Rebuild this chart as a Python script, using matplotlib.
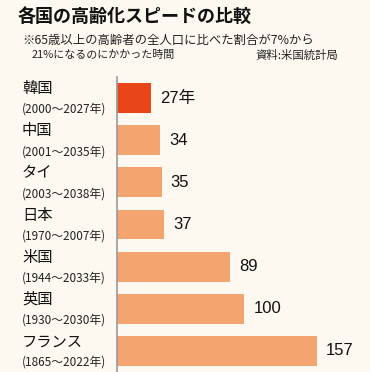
import matplotlib
matplotlib.use("Agg")
import matplotlib.pyplot as plt
from matplotlib.transforms import blended_transform_factory

plt.rcParams['font.family'] = ['Noto Sans CJK JP', 'DejaVu Sans']

# data
countries = ['韓国', '中国', 'タイ', '日本', '米国', '英国', 'フランス']
periods = ['(2000〜2027年)', '(2001〜2035年)', '(2003〜2038年)', '(1970〜2007年)',
           '(1944〜2033年)', '(1930〜2030年)', '(1865〜2022年)']
years = [27, 34, 35, 37, 89, 100, 157]
value_labels = ['27年', '34', '35', '37', '89', '100', '157']

bg = '#FDF9F0'
korea_color = '#E8451A'
other_color = '#F3A46F'

fig = plt.figure(figsize=(3.7, 3.72), dpi=100, facecolor=bg)
W, H = 370, 372
ax = fig.add_axes([117 / W, 0, (W - 117) / W, (H - 77) / H])
ax.set_facecolor(bg)

colors = [korea_color] + [other_color] * (len(years) - 1)
pos = list(range(len(years)))
ax.barh(pos, years, height=0.71, color=colors)

ax.set_xlim(0, 198.6)
ax.set_ylim(6.5, -0.5)
ax.set_xticks([])
ax.set_yticks([])
for side in ['top', 'right', 'bottom']:
    ax.spines[side].set_visible(False)
ax.spines['left'].set_color('#9a9a9a')
ax.spines['left'].set_linewidth(1.2)

# value labels
for p, v, lab in zip(pos, years, value_labels):
    ax.text(v + 7, p, lab, va='center', ha='left', fontsize=12, color='#111111',
            family=['Liberation Sans', 'Noto Sans CJK JP'])

# category labels left of the axis
tr = blended_transform_factory(fig.transFigure, ax.transData)
for p, name, per in zip(pos, countries, periods):
    ax.text(22 / W, p - 0.22, name, transform=tr, va='center', ha='left',
            fontsize=11, color='#111111')
    ax.text(21.5 / W, p + 0.27, per, transform=tr, va='center', ha='left',
            fontsize=8.5, color='#222222')

# title and notes
fig.text(18 / W, 1 - 16 / H, '各国の高齢化スピードの比較', fontsize=13,
         fontweight='bold', va='center', ha='left', color='#111111')
fig.text(22 / W, 1 - 40.5 / H, '※65歳以上の高齢者の全人口に比べた割合が7%から',
         fontsize=8.9, va='center', ha='left', color='#222222')
fig.text(32 / W, 1 - 55 / H, '21%になるのにかかった時間',
         fontsize=7.9, va='center', ha='left', color='#222222')
fig.text(338 / W, 1 - 55 / H, '資料:米国統計局',
         fontsize=8.2, va='center', ha='right', color='#222222')

fig.savefig('out.png', dpi=100, facecolor=bg)
